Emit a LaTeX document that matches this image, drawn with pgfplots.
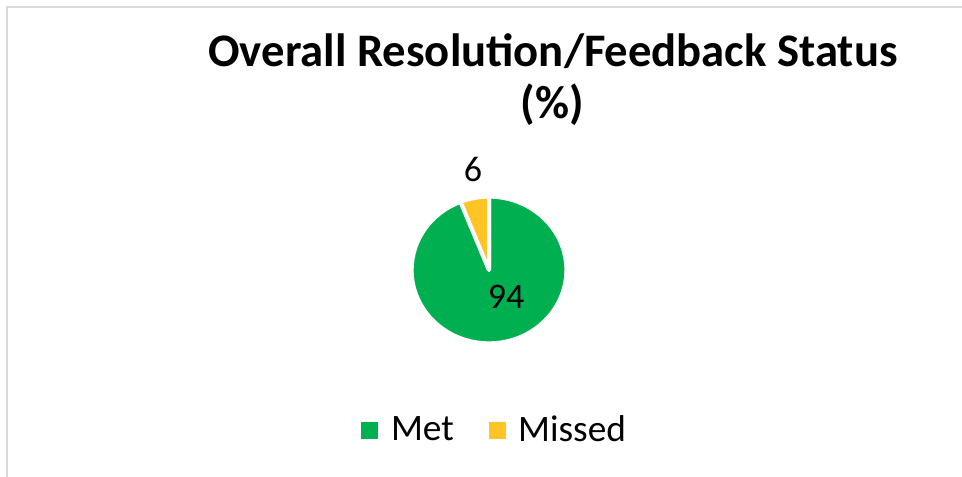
\documentclass[border=0pt]{standalone}
\usepackage{fontspec}
\setmainfont{Carlito}
\usepackage{pgfplots}
\usepackage{pgfplotstable}
\pgfplotsset{compat=1.18}
\definecolor{metgreen}{HTML}{00B050}
\definecolor{missyellow}{HTML}{FFC527}
\definecolor{frame}{HTML}{D9D9D9}

\pgfplotstableread{
label value
Met 94
Missed 6
}\piedata

\begin{document}
\begin{tikzpicture}
% slice angles, clockwise from 12 o'clock
\pgfplotstablegetelem{0}{value}\of\piedata \pgfmathtruncatemacro\vmet{\pgfplotsretval}
\pgfplotstablegetelem{1}{value}\of\piedata \pgfmathtruncatemacro\vmiss{\pgfplotsretval}
\pgfmathsetmacro\angA{90-3.6*\vmet+360}
\pgfmathsetmacro\angB{\angA-360}
\pgfmathsetmacro\xr{58}
\pgfmathsetmacro\yr{55}
\pgfmathsetmacro\dx{\xr*cos(\angA)}
\pgfmathsetmacro\dy{\yr*sin(\angA)}
\begin{axis}[
  scale only axis, width=721.5pt, height=357.75pt,
  xmin=0, xmax=962, ymin=0, ymax=477,
  hide axis, clip=false,
  legend columns=2,
  legend style={draw=none, fill=none, at={(0.5146,0.0985)}, anchor=center,
    font=\fontsize{28}{32}\selectfont,
    /tikz/every even column/.append style={column sep=24pt}},
  legend image code/.code={\fill[#1] (0pt,-6pt) rectangle (12pt,6pt); \path[draw=none,fill=none] (0pt,0pt) -- (20pt,0pt);},
]
\addlegendimage{metgreen}
\addlegendentry{Met}
\addlegendimage{missyellow}
\addlegendentry{Missed}

\coordinate (bl) at (axis cs:0,0);
\coordinate (tr) at (axis cs:962,477);

\draw[frame, line width=1.5pt] (axis cs:7,0) -- (axis cs:7,470) -- (axis cs:962,470);

\filldraw[fill=metgreen, draw=white, line width=3pt, line join=round]
  (axis cs:489,207) -- ++(0pt,\yr pt)
  arc[start angle=90, end angle=\angB, x radius=\xr pt, y radius=\yr pt] -- cycle;
\filldraw[fill=missyellow, draw=white, line width=3pt, line join=round]
  (axis cs:489,207) -- ++(\dx pt,\dy pt)
  arc[start angle=\angA, end angle=90, x radius=\xr pt, y radius=\yr pt] -- cycle;

\node[font=\fontsize{27}{30}\selectfont] at (axis cs:473,308) {\vmiss};
\node[font=\fontsize{27}{30}\selectfont] at (axis cs:506,180) {\vmet};

\node[font=\bfseries\fontsize{35}{40}\selectfont, anchor=base] at (axis cs:553,410) {Overall Resolution/Feedback Status};
\node[font=\bfseries\fontsize{35}{40}\selectfont, anchor=base] at (axis cs:552,358) {(\%)};
\end{axis}
\pgfresetboundingbox
\path (bl) rectangle (tr);
\end{tikzpicture}
\end{document}
